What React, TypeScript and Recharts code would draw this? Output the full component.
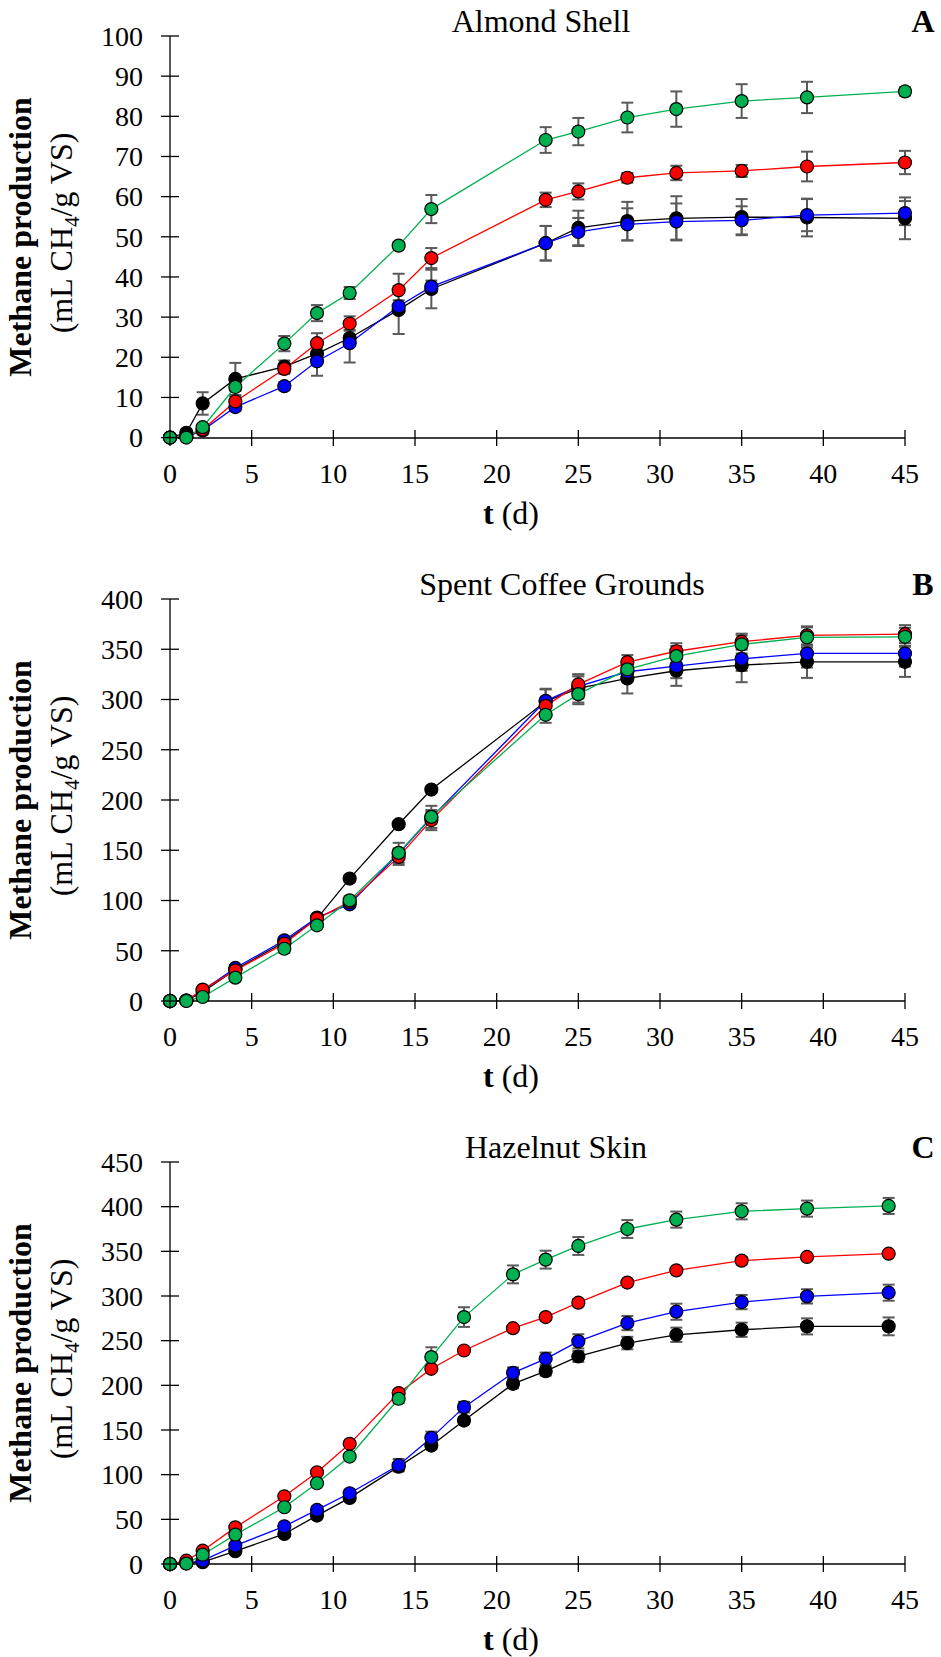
import React from "react";
import { LineChart, Line, XAxis, YAxis, ErrorBar } from "recharts";

const FONT = "'Liberation Serif', 'Times New Roman', serif";

// days of sampling
const daysAB = [0, 1, 2, 4, 7, 9, 11, 14, 16, 23, 25, 28, 31, 35, 39, 45];
const daysC = [0, 1, 2, 4, 7, 9, 11, 14, 16, 18, 21, 23, 25, 28, 31, 35, 39, 44];
const xTicks = [0, 5, 10, 15, 20, 25, 30, 35, 40, 45];

// A - Almond Shell
const almondBlack = [0, 1.2, 8.5, 14.6, 17.7, 20.9, 24.8, 31.8, 37.0, 48.4, 52.2, 53.9, 54.6, 54.9, 54.8, 54.6];
const almondBlackErr = [0, 0.8, 2.8, 4.0, 1.5, 1.5, 2.0, 6.0, 4.8, 4.3, 4.3, 4.8, 5.5, 4.5, 4.7, 5.2];
const almondBlue = [0, 0.2, 1.8, 7.6, 12.8, 19.0, 23.5, 32.7, 37.6, 48.4, 51.2, 53.1, 53.8, 54.1, 55.4, 55.9];
const almondBlueErr = [0, 0.3, 1.0, 1.0, 1.0, 3.6, 4.8, 1.5, 1.5, 4.3, 3.5, 4.0, 4.5, 3.5, 4.0, 3.0];
const almondRed = [0, 0.3, 2.0, 9.0, 17.1, 23.5, 28.4, 36.7, 44.7, 59.2, 61.3, 64.7, 65.9, 66.4, 67.5, 68.5];
const almondRedErr = [0, 0.3, 0.8, 1.2, 1.2, 2.5, 1.8, 4.1, 2.5, 1.8, 2.0, 1.2, 1.8, 1.5, 3.7, 2.9];
const almondGreen = [0, 0, 2.6, 12.6, 23.4, 31.0, 36.0, 47.8, 56.9, 74.1, 76.2, 79.7, 81.8, 83.8, 84.7, 86.2];
const almondGreenErr = [0, 0, 0.8, 1.0, 1.9, 2.0, 1.5, 0.8, 3.5, 3.2, 3.4, 3.7, 4.4, 4.2, 3.9, 1.0];
const almondTicks = [0, 10, 20, 30, 40, 50, 60, 70, 80, 90, 100];

// B - Spent Coffee Grounds
const coffeeBlack = [0, 0.5, 9, 31.2, 58.7, 82, 121.8, 175.9, 210.4, 298, 311, 321, 328.6, 334.2, 337.5, 337.5];
const coffeeBlackErr = [0, 0.3, 1.5, 2.5, 3, 3, 3, 3, 3, 12, 14, 15, 15, 17, 16, 15];
const coffeeBlue = [0, 0.5, 10.6, 32.9, 60.4, 83, 96.2, 146.7, 182.5, 298.7, 313, 327.6, 333.2, 340.5, 345.8, 345.8];
const coffeeBlueErr = [0, 0.3, 2, 3, 3, 3, 3, 5, 6, 12, 12, 10, 12, 12, 14, 13];
const coffeeRed = [0, 0.5, 11.3, 30.5, 57, 82, 98.6, 143.4, 180, 293.7, 315, 337.2, 348, 357.5, 363.8, 365];
const coffeeRedErr = [0, 0.3, 2, 3, 4, 3, 4, 8, 10, 8, 8, 7, 8, 8, 9, 9];
const coffeeGreen = [0, 0, 4, 23.2, 52, 75.3, 100.2, 147.4, 183.2, 284.8, 305.3, 330, 343.2, 354.8, 361.8, 362.4];
const coffeeGreenErr = [0, 0, 1.5, 3, 4, 3, 4, 10, 11, 8, 10, 10, 10, 9, 10, 9];
const coffeeTicks = [0, 50, 100, 150, 200, 250, 300, 350, 400];

// C - Hazelnut Skin
const hazelBlack = [0, 1, 2, 14.3, 33.6, 54.2, 74, 109, 132.6, 160.6, 201.7, 215.9, 232.3, 247.3, 256.6, 262.2, 266, 266];
const hazelBlackErr = [0, 0.5, 1, 2, 3, 3, 3, 4, 4, 4, 5, 5, 6, 7, 8, 8, 9, 10];
const hazelBlue = [0, 1, 3.7, 20.6, 42.2, 60.5, 79.2, 110.6, 141.2, 175.6, 214, 229.7, 249.2, 269.7, 282.4, 293.2, 299.6, 303.7];
const hazelBlueErr = [0, 0.5, 1, 2, 3, 4, 4, 7, 7, 6, 6, 7, 8, 8, 9, 8, 8, 9];
const hazelRed = [0, 3.7, 14.9, 41, 75.8, 102.7, 134.5, 191.3, 218.5, 239, 264, 276.4, 292.5, 315, 328.7, 339.6, 343.7, 347.4];
const hazelRedErr = [0, 0.5, 1, 2, 2, 2, 2, 3, 3, 3, 3, 3, 4, 3, 3, 4, 3, 3];
const hazelGreen = [0, 0.5, 10.4, 32.9, 63.5, 90.4, 120.3, 185, 231.6, 276.4, 324.2, 340.7, 356, 375, 385.5, 394.8, 397.8, 400.8];
const hazelGreenErr = [0, 0.5, 1, 2, 3, 3, 3, 5, 11, 11, 10, 10, 10, 10, 9, 9, 9, 9];
const hazelTicks = [0, 50, 100, 150, 200, 250, 300, 350, 400, 450];

const COLORS = { black: "#000000", blue: "#0000FF", red: "#FF0000", green: "#00B050" };
const ORDER: (keyof typeof COLORS)[] = ["black", "blue", "red", "green"];

const W = 941;
const H = 531;

function rows(days: number[], vals: Record<string, number[]>, errs: Record<string, number[]>) {
  return days.map((t, i) => {
    const r: any = { t };
    for (const k of ORDER) {
      r[k] = vals[k][i];
      r[k + "Err"] = errs[k][i];
    }
    return r;
  });
}

function YTick(props: any) {
  const { x, y, payload } = props;
  return (
    <g>
      <line x1={x - 9} x2={x + 9} y1={y} y2={y} stroke="#000" strokeWidth={1.3} />
      <text x={x - 27} y={y} dy="0.35em" textAnchor="end" fontSize={28} fontFamily={FONT} fill="#000">
        {payload.value}
      </text>
    </g>
  );
}

function XTick(props: any) {
  const { x, y, payload } = props;
  return (
    <g>
      <line x1={x} x2={x} y1={y - 8} y2={y + 8} stroke="#000" strokeWidth={1.3} />
      <text x={x} y={y + 45} textAnchor="middle" fontSize={28} fontFamily={FONT} fill="#000">
        {payload.value}
      </text>
    </g>
  );
}

function YLabel(props: any) {
  const vb = props.viewBox || {};
  const cy = vb.y + vb.height / 2;
  return (
    <g fontFamily={FONT} fill="#000" fontSize={32}>
      <text transform={`translate(31, ${cy}) rotate(-90)`} textAnchor="middle" fontWeight="bold">
        Methane production
      </text>
      <text transform={`translate(72, ${cy - 4}) rotate(-90)`} textAnchor="middle">
        (mL CH<tspan fontSize={21} dy={7}>4</tspan>
        <tspan dy={-7}>/g VS)</tspan>
      </text>
    </g>
  );
}

function XLabel(props: any) {
  const vb = props.viewBox || {};
  return (
    <text x={511} y={vb.y + 86} textAnchor="middle" fontFamily={FONT} fontSize={32} fill="#000">
      <tspan fontWeight="bold">t</tspan> (d)
    </text>
  );
}

function Panel(p: {
  top: number;
  title: string;
  titleX: number;
  letter: string;
  data: any[];
  yMax: number;
  yTicks: number[];
}) {
  return (
    <div style={{ position: "absolute", left: 0, top: p.top, width: W, height: H }}>
      <LineChart width={W} height={H} data={p.data} margin={{ top: 36, right: 36, bottom: 33, left: 0 }}>
        <XAxis
          dataKey="t"
          type="number"
          domain={[0, 45]}
          ticks={xTicks}
          interval={0}
          height={60}
          tickSize={0}
          tickMargin={0}
          tickLine={false}
          axisLine={{ stroke: "#000", strokeWidth: 1.3 }}
          tick={<XTick />}
          label={{ content: (lp: any) => <XLabel {...lp} /> }}
        />
        <YAxis
          type="number"
          domain={[0, p.yMax]}
          ticks={p.yTicks}
          interval={0}
          width={170}
          tickSize={0}
          tickMargin={0}
          tickLine={false}
          axisLine={{ stroke: "#000", strokeWidth: 1.3 }}
          tick={<YTick />}
          label={{ content: (lp: any) => <YLabel {...lp} /> }}
        />
        {ORDER.map((k) => (
          <Line
            key={k}
            dataKey={k}
            type="linear"
            stroke={COLORS[k]}
            strokeWidth={1.3}
            dot={{ r: 6.5, fill: COLORS[k], stroke: "#000", strokeWidth: 1.2 }}
            activeDot={false}
            isAnimationActive={false}
          >
            <ErrorBar dataKey={k + "Err"} direction="y" width={6} stroke="#5a5a5a" strokeWidth={2} />
          </Line>
        ))}
      </LineChart>
      <svg width={W} height={50} style={{ position: "absolute", left: 0, top: 0, pointerEvents: "none" }}>
        <text x={p.titleX} y={32} textAnchor="middle" fontFamily={FONT} fontSize={32} fill="#000">
          {p.title}
        </text>
        <text x={923} y={32} textAnchor="middle" fontFamily={FONT} fontSize={32} fontWeight="bold" fill="#000">
          {p.letter}
        </text>
      </svg>
    </div>
  );
}

const dataA = rows(
  daysAB,
  { black: almondBlack, blue: almondBlue, red: almondRed, green: almondGreen },
  { black: almondBlackErr, blue: almondBlueErr, red: almondRedErr, green: almondGreenErr }
);
const dataB = rows(
  daysAB,
  { black: coffeeBlack, blue: coffeeBlue, red: coffeeRed, green: coffeeGreen },
  { black: coffeeBlackErr, blue: coffeeBlueErr, red: coffeeRedErr, green: coffeeGreenErr }
);
const dataC = rows(
  daysC,
  { black: hazelBlack, blue: hazelBlue, red: hazelRed, green: hazelGreen },
  { black: hazelBlackErr, blue: hazelBlueErr, red: hazelRedErr, green: hazelGreenErr }
);

export default function App() {
  return (
    <div style={{ position: "absolute", left: 0, top: 0, width: W, height: 1657, background: "#fff", fontFamily: FONT }}>
      <Panel top={0} title="Almond Shell" titleX={541} letter="A" data={dataA} yMax={100} yTicks={almondTicks} />
      <Panel top={563} title="Spent Coffee Grounds" titleX={562} letter="B" data={dataB} yMax={400} yTicks={coffeeTicks} />
      <Panel top={1126} title="Hazelnut Skin" titleX={556} letter="C" data={dataC} yMax={450} yTicks={hazelTicks} />
    </div>
  );
}
